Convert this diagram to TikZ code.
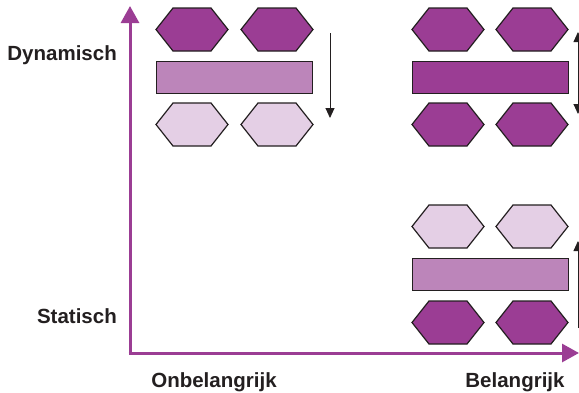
\documentclass[tikz,border=0pt]{standalone}
\usepackage{fontspec}
\setmainfont{Liberation Sans}
\usetikzlibrary{arrows.meta}
\definecolor{pdark}{HTML}{9B3D94}
\definecolor{pmid}{HTML}{BC85BA}
\definecolor{plight}{HTML}{E4CFE5}
\definecolor{ink}{HTML}{231F20}
\tikzset{
  shapeline/.style={draw=ink, line width=1.2pt, line join=miter},
  axis/.style={draw=pdark, line width=3pt, -{Triangle[length=17pt,width=18pt]}},
  flow/.style={draw=ink, line width=0.9pt},
  lbl/.style={font=\bfseries\fontsize{20.5}{22}\selectfont, text=ink, inner sep=0pt},
  pics/hexa/.style={code={
    \path[shapeline, fill=#1] (0,21.5) -- (17,0) -- (55,0) -- (72,21.5) -- (55,43) -- (17,43) -- cycle;
  }}
}
\begin{document}
\begin{tikzpicture}[x=1pt, y=-1pt]
\useasboundingbox (0,0) rectangle (579,392);
% axes
\coordinate (O) at (130,353);
\coordinate (ytop) at (130,6);
\coordinate (xend) at (579,353);
\draw[axis] (O) -- (ytop);
\draw[axis] ([xshift=-1.5pt]O) -- (xend);
% top-left group
\pic at (156,8) {hexa=pdark};
\pic at (241,8) {hexa=pdark};
\node[shapeline, fill=pmid, minimum width=156pt, minimum height=32pt, inner sep=0pt, anchor=north west] (rtl) at (156,61) {};
\pic at (156,103) {hexa=plight};
\pic at (241,103) {hexa=plight};
\coordinate (a1s) at (330,33);
\coordinate (a1e) at (330,118);
\draw[flow, -{Triangle[length=10pt,width=9pt]}] (a1s) -- (a1e);
% top-right group
\pic at (412,8) {hexa=pdark};
\pic at (496,8) {hexa=pdark};
\node[shapeline, fill=pdark, minimum width=156pt, minimum height=32pt, inner sep=0pt, anchor=north west] (rtr) at (412,61) {};
\pic at (412,103) {hexa=pdark};
\pic at (496,103) {hexa=pdark};
\coordinate (a2s) at (578,32);
\coordinate (a2e) at (578,114);
\draw[flow, {Triangle[length=10pt,width=9pt]}-{Triangle[length=10pt,width=9pt]}] (a2s) -- (a2e);
% bottom-right group
\pic at (412,205) {hexa=plight};
\pic at (496,205) {hexa=plight};
\node[shapeline, fill=pmid, minimum width=156pt, minimum height=32pt, inner sep=0pt, anchor=north west] (rbr) at (412,258) {};
\pic at (412,301) {hexa=pdark};
\pic at (496,301) {hexa=pdark};
\coordinate (a3s) at (578,328);
\coordinate (a3e) at (578,241);
\draw[flow, -{Triangle[length=10pt,width=9pt]}] (a3s) -- (a3e);
% labels
\node[lbl, anchor=base east] (dyn) at (117,60.5) {Dynamisch};
\node[lbl, anchor=base east] (stat) at (117,323) {Statisch};
\node[lbl, anchor=base] (onb) at (214,387) {Onbelangrijk};
\node[lbl, anchor=base] (bel) at (515,387) {Belangrijk};
\end{tikzpicture}
\end{document}
